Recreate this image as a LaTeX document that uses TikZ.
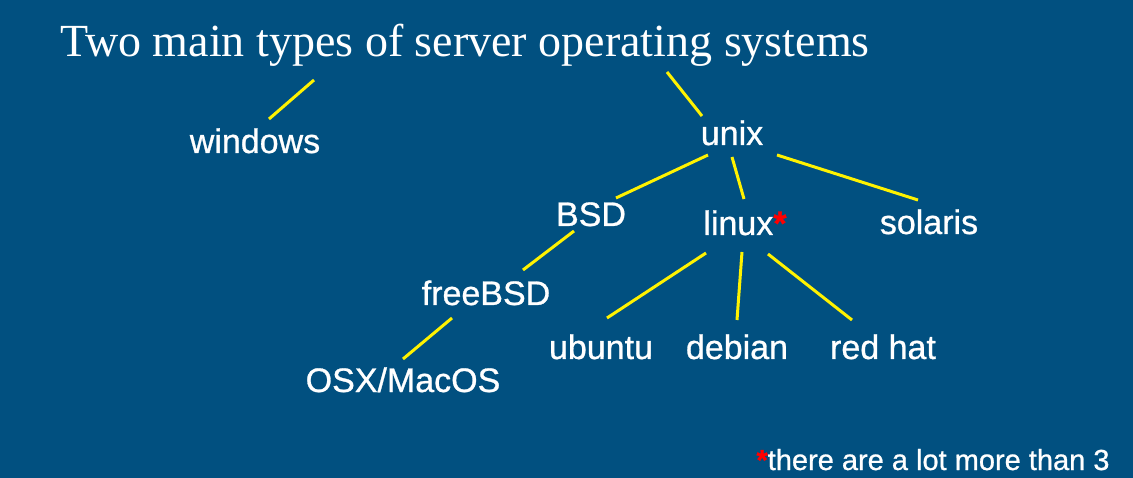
\documentclass[tikz,border=0pt]{standalone}
\usepackage{fontspec}
\setmainfont{Liberation Serif}
\newfontfamily\labelfont[FakeBold=0.8]{Liberation Sans}
\definecolor{slide}{RGB}{1,80,128}
\definecolor{marker}{RGB}{255,242,0}

\tikzset{
  os/.style={text=white, font=\labelfont\fontsize{34}{34}\selectfont, inner sep=0pt, anchor=base},
  link/.style={draw=marker, line width=3pt},
}

\begin{document}
\begin{tikzpicture}[x=1pt,y=-1pt]
  \fill[slide] (0,0) rectangle (1133,478);
  \useasboundingbox (0,0) rectangle (1133,478);
  % heading
  \node[os, font=\fontsize{46}{46}\selectfont] (title) at (465,57) {Two main types of server operating systems};
  % tree of systems
  \node[os] (windows) at (255,153) {windows};
  \node[os] (unix)    at (732,145) {unix};
  \node[os] (bsd)     at (591,226) {BSD};
  \node[os] (linux)   at (745,235) {linux\textcolor{red}{\bfseries *}};
  \node[os] (solaris) at (929,234) {solaris};
  \node[os] (freebsd) at (486,305) {freeBSD};
  \node[os] (osx)     at (403,392) {OSX/MacOS};
  \node[os] (ubuntu)  at (601,359) {ubuntu};
  \node[os] (debian)  at (737,359) {debian};
  \node[os] (redhat)  at (883,359) {red hat};
  \node[os, font=\labelfont\fontsize{29}{29}\selectfont] (note) at (933,470) {\textcolor{red}{\bfseries *}there are a lot more than 3};
  % connectors, offsets from the base of each node
  \foreach \a/\p/\b/\q in {title/{-151,23}/windows/{14,-34}, title/{202,15}/unix/{-30,-29},
      unix/{-24,10}/bsd/{25,-28}, unix/{0,12}/linux/{-1,-36}, unix/{45,10}/solaris/{-11,-34},
      bsd/{-17,5}/freebsd/{37,-35}, freebsd/{-34,13}/osx/{0,-33},
      linux/{-39,18}/ubuntu/{6,-41}, linux/{-3,17}/debian/{0,-39}, linux/{23,19}/redhat/{-31,-39}}
    \draw[link] ([shift={(\p)}]\a.base) -- ([shift={(\q)}]\b.base);
\end{tikzpicture}
\end{document}
